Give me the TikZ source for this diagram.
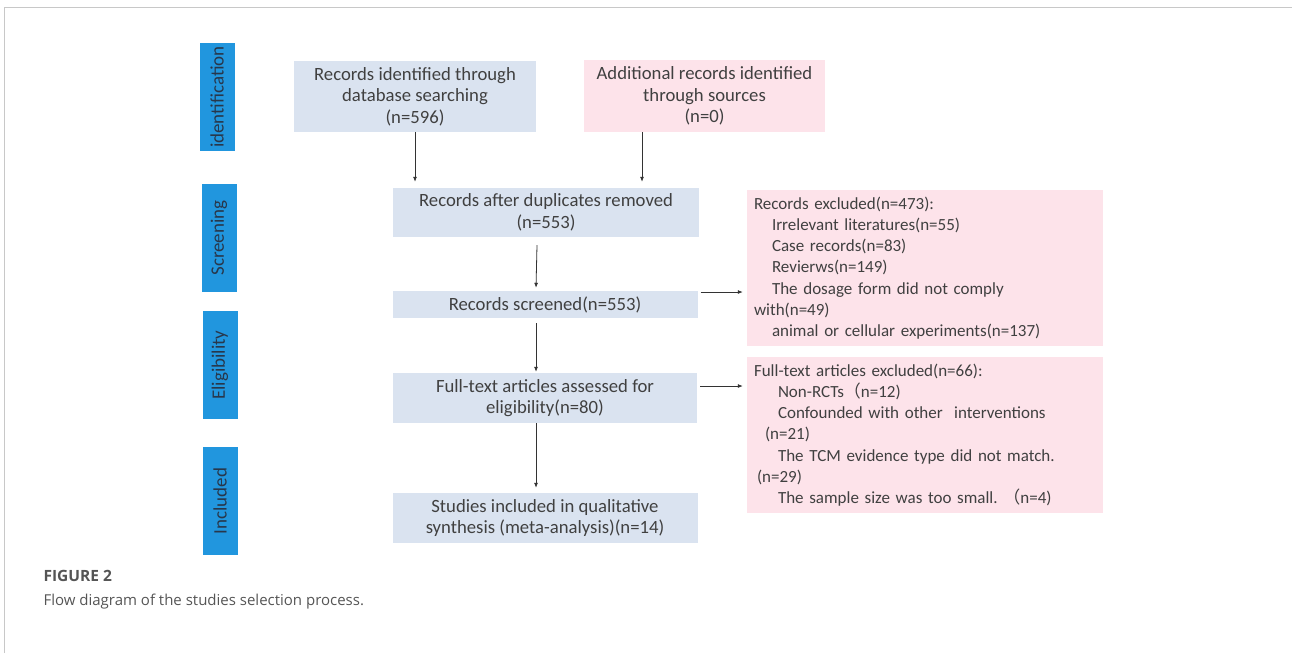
\documentclass[tikz,border=0pt]{standalone}
\usepackage{fontspec}
\setmainfont{Carlito}
\newfontfamily\capfont{Open Sans}
\newfontfamily\cjk{Noto Sans CJK SC}
\usetikzlibrary{arrows.meta}
\definecolor{tabblue}{RGB}{33,150,222}
\definecolor{tabtext}{RGB}{40,55,75}
\definecolor{boxblue}{RGB}{218,227,240}
\definecolor{boxpink}{RGB}{253,227,234}
\definecolor{boxtext}{RGB}{64,64,64}
\definecolor{framegray}{RGB}{200,200,200}
\definecolor{captext}{RGB}{85,85,85}
\begin{document}
\begin{tikzpicture}
        [x=1pt,y=-1pt,
         blue box/.style={fill=boxblue, text=boxtext, align=center, inner sep=0pt,
                          font=\fontsize{18.7}{21.5}\selectfont},
         pink box/.style={fill=boxpink, text=boxtext, align=left, inner xsep=7pt, inner ysep=0pt,
                          text width=342pt, minimum height=156pt,
                          font=\fontsize{17}{21.2}\selectfont},
         phase tab/.style={fill=tabblue, text=tabtext, rotate=90, inner sep=0pt,
                           minimum width=108pt, minimum height=35pt,
                           font=\fontsize{19}{20}\selectfont},
         arrow line/.style={-{Latex[length=5pt,width=4pt]}, line width=0.8pt, black!80}]
            \useasboundingbox (0,0) rectangle (1292,653);
            %cornice
            \draw[framegray, line width=1pt] (4,653) -- (4,7) -- (1292,7);
            %etichette delle fasi
            \node[phase tab] (tabid) at (217,97) {identification};
            \node[phase tab] (tabsc) at (219,238) {Screening};
            \node[phase tab] (tabel) at (220,365) {Eligibility};
            \node[phase tab] (tabin) at (220,501) {Included};
            %riquadri centrali
            \node[blue box, minimum width=242pt, minimum height=71pt] (ident) at (415,96.5)
                {Records identified through\\database searching\\(n=596)};
            \node[blue box, fill=boxpink, minimum width=241pt, minimum height=72pt] (addl) at (704.5,96)
                {Additional records identified\\through sources\\(n=0)};
            \node[blue box, minimum width=306pt, minimum height=49pt] (dup) at (546,212.5)
                {Records after duplicates removed\\(n=553)};
            \node[blue box, minimum width=305pt, minimum height=27pt] (scr) at (545,304.5)
                {Records screened(n=553)};
            \node[blue box, minimum width=304pt, minimum height=50pt] (full) at (545,398)
                {Full-text articles assessed for\\eligibility(n=80)};
            \node[blue box, minimum width=305pt, minimum height=50pt] (incl) at (545,518)
                {Studies included in qualitative\\synthesis (meta-analysis)(n=14)};
            %riquadri degli esclusi
            \node[pink box] (excla) at (925,268)
                {Records excluded(n=473):\\
                 \hspace*{18pt}Irrelevant literatures(n=55)\\
                 \hspace*{18pt}Case records(n=83)\\
                 \hspace*{18pt}Revierws(n=149)\\
                 \hspace*{18pt}The dosage form did not comply\\
                 with(n=49)\\
                 \hspace*{18pt}animal or cellular experiments(n=137)};
            \node[pink box] (exclb) at (925,435)
                {Full-text articles excluded(n=66):\\
                 \hspace*{24pt}Non-RCTs{\cjk （}n=12)\\
                 \hspace*{24pt}Confounded with other\ \ interventions\\
                 \hspace*{11pt}(n=21)\\
                 \hspace*{24pt}The TCM evidence type did not match.\\
                 \hspace*{3pt}(n=29)\\
                 \hspace*{24pt}The sample size was too small.{\cjk \ （}n=4)};
            %frecce verticali
            \draw[arrow line, shorten >=6pt] (ident.south) -- (ident.south |- dup.north);
            \draw[arrow line, shorten >=6pt] ([xshift=-62.5pt]addl.south) -- ([xshift=-62.5pt]addl.south |- dup.north);
            \draw[arrow line] ([xshift=-9pt,yshift=-8pt]dup.south) -- ([xshift=-9pt,yshift=3pt]scr.north);
            \draw[arrow line] ([xshift=-9pt,yshift=-5pt]scr.south) -- ([xshift=-9pt,yshift=1pt]full.north);
            \draw[arrow line] ([xshift=-9pt]full.south) -- ([xshift=-9pt,yshift=5pt]incl.north);
            %frecce verso gli esclusi
            \draw[arrow line] ([xshift=3pt,yshift=12.5pt]scr.east) coordinate (sa) -- ([xshift=-4pt]sa -| excla.west);
            \draw[arrow line] ([xshift=3pt,yshift=12pt]full.east) coordinate (sb) -- ([xshift=-4pt]sb -| exclb.west);
            %didascalia
            \node[anchor=base west, text=captext, font=\capfont\bfseries\fontsize{15.5}{18}\selectfont] (fig) at (40,581) {FIGURE 2};
            \node[anchor=base west, text=captext, font=\capfont\fontsize{15}{18}\selectfont] (cap) at (40,605) {Flow diagram of the studies selection process.};
    \end{tikzpicture}
\end{document}
